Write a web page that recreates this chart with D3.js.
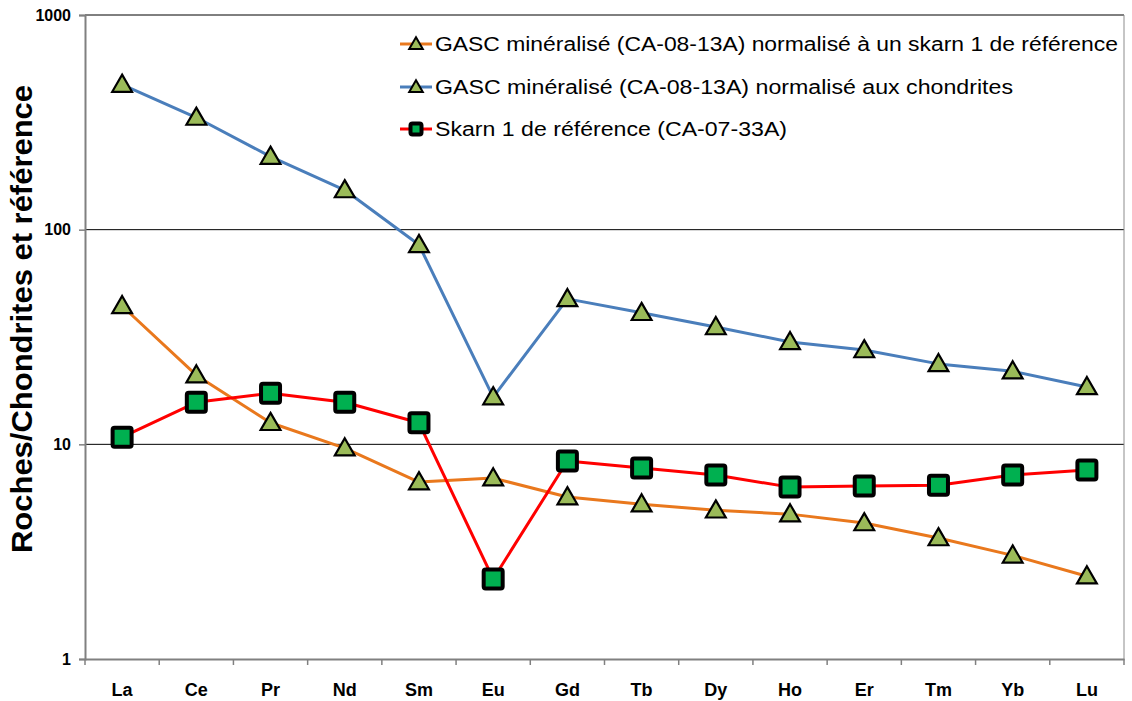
<!DOCTYPE html>
<html>
<head>
<meta charset="utf-8">
<script src="https://cdn.jsdelivr.net/npm/d3@7"></script>
<style>
  html, body { margin: 0; padding: 0; background: #fff; }
  svg { display: block; font-family: "Liberation Sans", Arial, sans-serif; }
</style>
</head>
<body>
<svg id="chart" width="1132" height="701"></svg>
<script>
// Rare earth elements along the x axis
const elements = ["La", "Ce", "Pr", "Nd", "Sm", "Eu", "Gd", "Tb", "Dy", "Ho", "Er", "Tm", "Yb", "Lu"];

// Mineralised GASC sample (CA-08-13A) normalised to reference skarn 1
const gascVsSkarn = [44.1, 21.0, 12.6, 9.6, 6.67, 6.96, 5.68, 5.26, 4.93, 4.73, 4.30, 3.66, 3.04, 2.43];

// Same sample normalised to chondrites
const gascVsChondrite = [474, 333, 219, 153, 85, 16.6, 47.6, 41.0, 35.2, 30.0, 27.5, 23.7, 21.9, 18.5];

// Reference skarn 1 (CA-07-33A), chondrite normalised
const skarnRef = [10.8, 15.7, 17.3, 15.7, 12.6, 2.36, 8.36, 7.75, 7.19, 6.32, 6.39, 6.45, 7.19, 7.59];

const yTicks = [1, 10, 100, 1000];

const legendLabels = [
  "GASC minéralisé (CA-08-13A) normalisé à un skarn 1 de référence",
  "GASC minéralisé (CA-08-13A) normalisé aux chondrites",
  "Skarn 1 de référence (CA-07-33A)"
];

const svg = d3.select("#chart");
const plotLeft = 85, plotRight = 1124, plotTop = 15, plotBottom = 659;

const x = d3.scaleBand().domain(elements).range([plotLeft, plotRight]);
const y = d3.scaleLog().domain([1, 1000]).range([plotBottom, plotTop]);
const cx = d => x(d) + x.bandwidth() / 2;

// Horizontal gridlines at each decade
svg.append("g")
  .selectAll("line")
  .data(yTicks.slice(1))
  .join("line")
  .attr("x1", plotLeft).attr("x2", plotRight)
  .attr("y1", d => y(d)).attr("y2", d => y(d))
  .attr("stroke", "#000").attr("stroke-width", 1);

// Right border of the plot area
svg.append("line")
  .attr("x1", plotRight).attr("x2", plotRight)
  .attr("y1", plotTop).attr("y2", plotBottom)
  .attr("stroke", "#8c8c8c").attr("stroke-width", 1);

// Y axis
const yAxis = svg.append("g")
  .attr("transform", `translate(${plotLeft},0)`)
  .call(d3.axisLeft(y).tickValues(yTicks).tickFormat(d3.format("d")).tickSize(6).tickPadding(8));
yAxis.select(".domain").attr("stroke", "#808080").attr("stroke-width", 2);
yAxis.selectAll(".tick line").attr("stroke", "#808080").attr("stroke-width", 1.5);
yAxis.selectAll(".tick text")
  .attr("fill", "#000")
  .style("font-family", "'Liberation Sans', Arial, sans-serif")
  .style("font-size", "16px")
  .style("font-weight", "bold");

// X axis, ticks between categories
const xAxis = svg.append("g")
  .attr("transform", `translate(0,${plotBottom})`)
  .call(d3.axisBottom(x).tickSize(0).tickPadding(24));
xAxis.select(".domain").attr("stroke", "#808080").attr("stroke-width", 2);
xAxis.selectAll(".tick text")
  .attr("fill", "#000")
  .style("font-family", "'Liberation Sans', Arial, sans-serif")
  .style("font-size", "18px")
  .style("font-weight", "bold");
xAxis.append("g")
  .selectAll("line")
  .data(d3.range(elements.length + 1))
  .join("line")
  .attr("x1", i => plotLeft + i * x.step()).attr("x2", i => plotLeft + i * x.step())
  .attr("y1", 0).attr("y2", 6)
  .attr("stroke", "#808080").attr("stroke-width", 1.5);

// Y axis title
svg.append("text")
  .attr("transform", `translate(32,${(85 + 553) / 2}) rotate(-90)`)
  .attr("text-anchor", "middle")
  .attr("textLength", 468)
  .attr("lengthAdjust", "spacingAndGlyphs")
  .style("font-size", "29px")
  .style("font-weight", "bold")
  .text("Roches/Chondrites et référence");

// Marker shapes
const triangle = d3.symbol().type(d3.symbolTriangle).size(170);
function drawTriangle(g, px, py) {
  g.append("path")
    .attr("d", triangle())
    .attr("transform", `translate(${px},${py + 1.5})`)
    .attr("fill", "#9BBB59")
    .attr("stroke", "#000")
    .attr("stroke-width", 2.2)
    .attr("stroke-linejoin", "miter");
}
function drawSquare(g, px, py, s = 19) {
  g.append("rect")
    .attr("x", px - s / 2).attr("y", py - s / 2)
    .attr("width", s).attr("height", s)
    .attr("rx", 2)
    .attr("fill", "#00B050")
    .attr("stroke", "#000")
    .attr("stroke-width", 4);
}

const series = [
  { values: gascVsSkarn, color: "#E9781D", marker: "triangle" },
  { values: gascVsChondrite, color: "#4A7EBB", marker: "triangle" },
  { values: skarnRef, color: "#FF0000", marker: "square" }
];

const line = d3.line()
  .x((d, i) => cx(elements[i]))
  .y(d => y(d));

series.forEach(s => {
  const g = svg.append("g");
  g.append("path")
    .datum(s.values)
    .attr("d", line)
    .attr("fill", "none")
    .attr("stroke", s.color)
    .attr("stroke-width", 3)
    .attr("stroke-linejoin", "round");
  s.values.forEach((v, i) => {
    if (s.marker === "triangle") drawTriangle(g, cx(elements[i]), y(v));
    else drawSquare(g, cx(elements[i]), y(v));
  });
});

// Legend
const legendRows = [44, 87, 129];
const legendWidths = [683, 578, 352];
series.forEach((s, i) => {
  const g = svg.append("g");
  const ly = legendRows[i];
  g.append("line")
    .attr("x1", 400).attr("x2", 432)
    .attr("y1", ly).attr("y2", ly)
    .attr("stroke", s.color).attr("stroke-width", 3);
  if (s.marker === "triangle") {
    g.append("path")
      .attr("d", d3.symbol().type(d3.symbolTriangle).size(80)())
      .attr("transform", `translate(416,${ly + 1})`)
      .attr("fill", "#9BBB59").attr("stroke", "#000").attr("stroke-width", 2);
  } else {
    drawSquare(g, 416, ly, 11);
  }
  g.append("text")
    .attr("x", 435).attr("y", ly)
    .attr("dy", "0.35em")
    .attr("textLength", legendWidths[i])
    .attr("lengthAdjust", "spacingAndGlyphs")
    .style("font-size", "20px")
    .text(legendLabels[i]);
});
</script>
</body>
</html>
